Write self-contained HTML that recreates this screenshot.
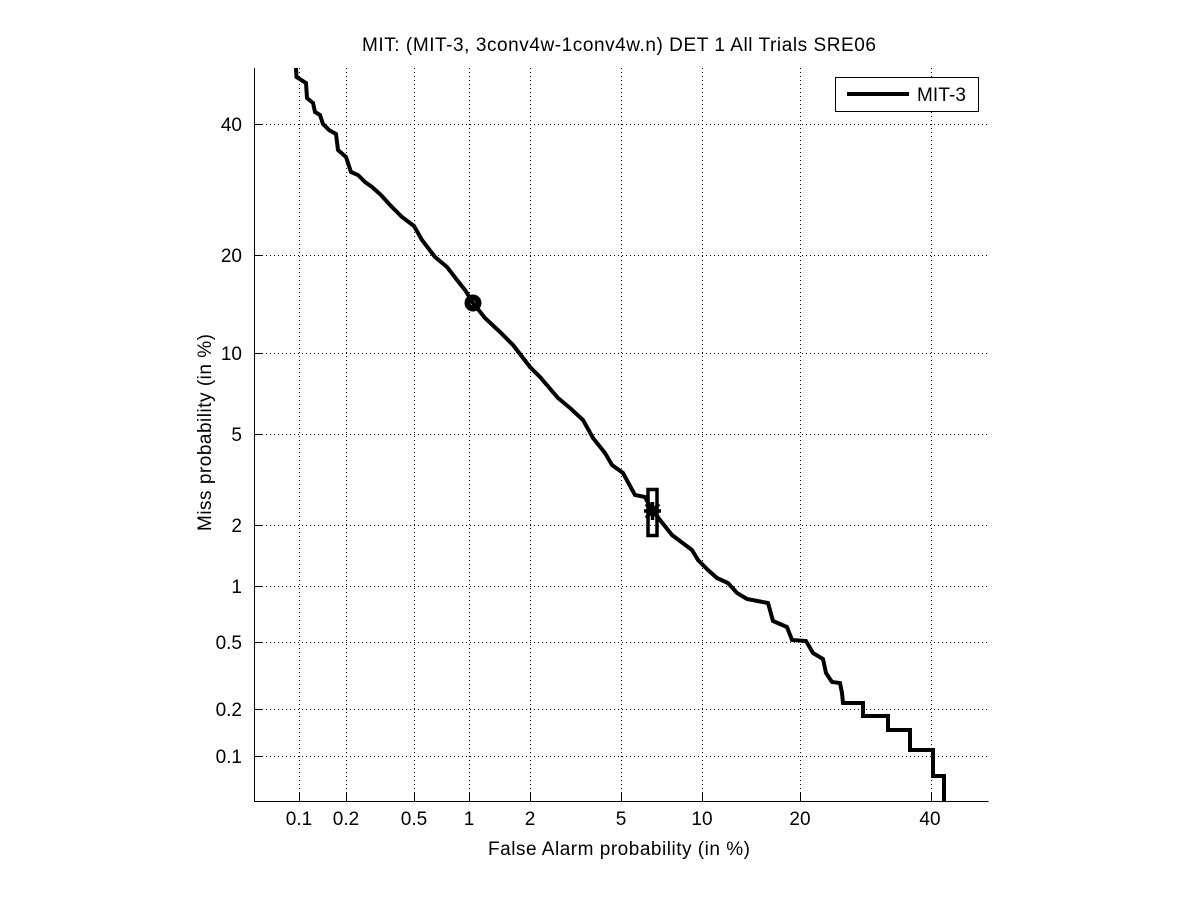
<!DOCTYPE html>
<html>
<head>
<meta charset="utf-8">
<style>
html,body{margin:0;padding:0;background:#fff;}
svg{display:block;}
text{font-family:"Liberation Sans", Arial, sans-serif;fill:#000;}
</style>
</head>
<body>
<svg width="1201" height="900" viewBox="0 0 1201 900" xmlns="http://www.w3.org/2000/svg">
<rect x="0" y="0" width="1201" height="900" fill="#fff"/>

<!-- grid -->
<g stroke="#000" stroke-width="1" stroke-dasharray="1 3" fill="none">
  <line x1="299.5" y1="68" x2="299.5" y2="801"/>
  <line x1="346.5" y1="68" x2="346.5" y2="801"/>
  <line x1="414.5" y1="68" x2="414.5" y2="801"/>
  <line x1="469.5" y1="68" x2="469.5" y2="801"/>
  <line x1="530.5" y1="68" x2="530.5" y2="801"/>
  <line x1="621.5" y1="68" x2="621.5" y2="801"/>
  <line x1="702.5" y1="68" x2="702.5" y2="801"/>
  <line x1="800.5" y1="68" x2="800.5" y2="801"/>
  <line x1="931.5" y1="68" x2="931.5" y2="801"/>

  <line x1="254" y1="124.5" x2="988" y2="124.5"/>
  <line x1="254" y1="255.5" x2="988" y2="255.5"/>
  <line x1="254" y1="353.5" x2="988" y2="353.5"/>
  <line x1="254" y1="434.5" x2="988" y2="434.5"/>
  <line x1="254" y1="525.5" x2="988" y2="525.5"/>
  <line x1="254" y1="586.5" x2="988" y2="586.5"/>
  <line x1="254" y1="642.5" x2="988" y2="642.5"/>
  <line x1="254" y1="709.5" x2="988" y2="709.5"/>
  <line x1="254" y1="756.5" x2="988" y2="756.5"/>
</g>

<!-- axes -->
<g stroke="#000" stroke-width="1" fill="none">
  <line x1="254.5" y1="68" x2="254.5" y2="801.5"/>
  <line x1="254" y1="801.5" x2="988.5" y2="801.5"/>
  <line x1="299.5" y1="801" x2="299.5" y2="793"/>
  <line x1="346.5" y1="801" x2="346.5" y2="793"/>
  <line x1="414.5" y1="801" x2="414.5" y2="793"/>
  <line x1="469.5" y1="801" x2="469.5" y2="793"/>
  <line x1="530.5" y1="801" x2="530.5" y2="793"/>
  <line x1="621.5" y1="801" x2="621.5" y2="793"/>
  <line x1="702.5" y1="801" x2="702.5" y2="793"/>
  <line x1="800.5" y1="801" x2="800.5" y2="793"/>
  <line x1="931.5" y1="801" x2="931.5" y2="793"/>
  <line x1="254" y1="124.5" x2="262" y2="124.5"/>
  <line x1="254" y1="255.5" x2="262" y2="255.5"/>
  <line x1="254" y1="353.5" x2="262" y2="353.5"/>
  <line x1="254" y1="434.5" x2="262" y2="434.5"/>
  <line x1="254" y1="525.5" x2="262" y2="525.5"/>
  <line x1="254" y1="586.5" x2="262" y2="586.5"/>
  <line x1="254" y1="642.5" x2="262" y2="642.5"/>
  <line x1="254" y1="709.5" x2="262" y2="709.5"/>
  <line x1="254" y1="756.5" x2="262" y2="756.5"/>
</g>

<!-- tick labels -->
<g font-size="19" text-anchor="middle">
  <text x="299" y="825">0.1</text>
  <text x="346" y="825">0.2</text>
  <text x="414" y="825">0.5</text>
  <text x="469" y="825">1</text>
  <text x="530" y="825">2</text>
  <text x="621" y="825">5</text>
  <text x="702" y="825">10</text>
  <text x="800" y="825">20</text>
  <text x="930" y="825">40</text>
</g>
<g font-size="19" text-anchor="end">
  <text x="242" y="131">40</text>
  <text x="242" y="262">20</text>
  <text x="242" y="360">10</text>
  <text x="242" y="441">5</text>
  <text x="242" y="532">2</text>
  <text x="242" y="593">1</text>
  <text x="242" y="649">0.5</text>
  <text x="242" y="716">0.2</text>
  <text x="242" y="763">0.1</text>
</g>

<!-- title and axis labels -->
<text x="362" y="51" font-size="19" textLength="514" lengthAdjust="spacing">MIT: (MIT-3, 3conv4w-1conv4w.n) DET 1 All Trials SRE06</text>
<text x="488" y="855" font-size="19" textLength="262" lengthAdjust="spacing">False Alarm probability (in %)</text>
<text transform="translate(211,531) rotate(-90)" font-size="19" textLength="197" lengthAdjust="spacing">Miss probability (in %)</text>

<!-- curve -->
<polyline fill="none" stroke="#000" stroke-width="4" stroke-linejoin="miter" points="
296,68 296.5,77 306,83 307,98 313,103 315,112 320,115 323,124 329,130 336,134 338,150
346,157 351,172 358,175 365,182 372,187 381,195 390,205 402,217 414,226 422,240
435,257 447,267 457,280 465,290 473,303 485,318 500,332 513,345 530,367 540,377
558,398 570,408 583,420 593,438 605,453 612,465 623,473 635,495 645,497 652,510
660,520 672,535 680,541 692,550 698,560 708,570 717,578 728,583 737,593 747,599
768,603 773,621 787,627 792,640 806,641 813,653 823,659 826,673 832,682 840,683
842,693 843,703 863,703 863,716 888,716 888,730 910,730 910,750 933,750 933,776
944,776 944,801"/>

<!-- markers -->
<circle cx="473" cy="303" r="5.5" fill="none" stroke="#000" stroke-width="6"/>
<rect x="648" y="489.5" width="9" height="46" fill="none" stroke="#000" stroke-width="3.5"/>
<g stroke="#000" stroke-width="3.5">
  <line x1="644" y1="511" x2="661" y2="511"/>
  <line x1="652.5" y1="502" x2="652.5" y2="520"/>
  <line x1="646" y1="504" x2="659" y2="518"/>
  <line x1="659" y1="504" x2="646" y2="518"/>
</g>

<!-- legend -->
<rect x="835.5" y="77.5" width="143" height="34" fill="#fff" stroke="#000" stroke-width="1"/>
<line x1="847" y1="94" x2="909" y2="94" stroke="#000" stroke-width="4"/>
<text x="917" y="101" font-size="19" textLength="49" lengthAdjust="spacing">MIT-3</text>
</svg>
</body>
</html>
